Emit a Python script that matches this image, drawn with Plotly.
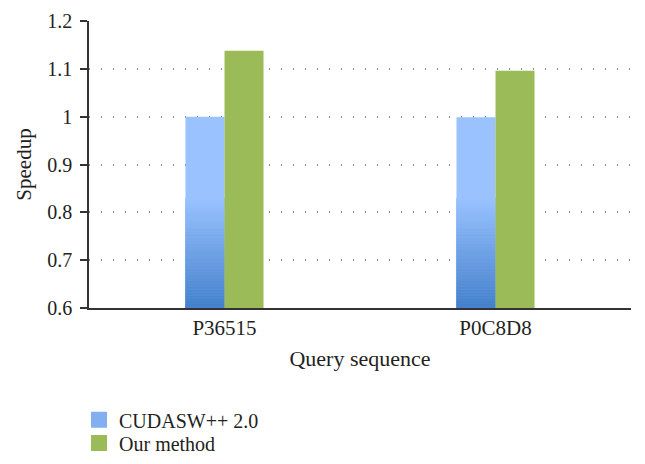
import plotly.graph_objects as go

categories = ["P36515", "P0C8D8"]
cudasw = [1.0, 0.999]
ours = [1.138, 1.096]
series_names = ["CUDASW++ 2.0", "Our method"]
y_ticks = [0.6, 0.7, 0.8, 0.9, 1.0, 1.1, 1.2]

FONT = "Liberation Serif"
TXT = "#231f20"
BLUE_LIGHT = (153, 194, 255)
BLUE_DARK = (70, 130, 205)
GREEN = "#9bbb59"

fig = go.Figure()

fig.add_trace(go.Bar(x=categories, y=cudasw, name=series_names[0], showlegend=False,
                     marker=dict(color="rgb(%d,%d,%d)" % BLUE_LIGHT, line_width=0),
                     offsetgroup="a"))

# gradient overlay on lower part of blue bars
ymin = y_ticks[0]
grad_top = 0.83
N = 36
step = (grad_top - ymin) / N
for i in range(N):
    t = i / (N - 1)
    c = tuple(int(BLUE_DARK[k] + (BLUE_LIGHT[k] - BLUE_DARK[k]) * t) for k in range(3))
    b = ymin + i * step
    fig.add_trace(go.Bar(x=categories, y=[min(step, max(v - b, 0)) for v in cudasw],
                         base=[b] * len(categories), showlegend=False, hoverinfo="skip",
                         marker=dict(color="rgb(%d,%d,%d)" % c,
                                     line=dict(width=0.6, color="rgb(%d,%d,%d)" % c)),
                         offsetgroup="a"))

fig.add_trace(go.Bar(x=categories, y=ours, name=series_names[1], showlegend=False,
                     marker=dict(color=GREEN, line_width=0), offsetgroup="b"))

# legend entries
fig.add_trace(go.Scatter(x=[None], y=[None], mode="markers", name=series_names[0],
                         marker=dict(symbol="square", size=16, color="rgb(130,175,240)"),
                         legend="legend"))
fig.add_trace(go.Scatter(x=[None], y=[None], mode="markers", name=series_names[1],
                         marker=dict(symbol="square", size=16, color=GREEN),
                         legend="legend2"))

leg_common = dict(orientation="h", xref="container", yref="container",
                  xanchor="left", yanchor="middle", x=0.1115,
                  font=dict(family=FONT, size=20, color=TXT),
                  bgcolor="rgba(0,0,0,0)", itemwidth=30)

fig.update_layout(
    width=637, height=456,
    margin=dict(l=81, r=14, t=13, b=156),
    paper_bgcolor="white", plot_bgcolor="white",
    barmode="group", bargap=0.712, bargroupgap=0,
    font=dict(family=FONT, size=20, color=TXT),
    showlegend=True,
    legend=dict(y=0.097, **leg_common),
    legend2=dict(y=0.046, **leg_common),
    xaxis=dict(
        automargin=False,
        showline=True, linecolor="#333333", linewidth=1.5,
        ticks="", showgrid=False, ticklabelstandoff=0,
        tickfont=dict(family=FONT, size=21, color=TXT),
        title=dict(text="Query sequence", font=dict(family=FONT, size=22, color=TXT), standoff=12),
    ),
    yaxis=dict(
        automargin=False,
        range=[y_ticks[0], y_ticks[-1]], tickvals=y_ticks,
        showline=True, linecolor="#333333", linewidth=1.5,
        ticks="outside", ticklen=7, tickwidth=1.5, tickcolor="#333333",
        showgrid=True, gridcolor="#8a8a8a", griddash="1px,11px", gridwidth=1.5,
        zeroline=False, ticklabelstandoff=4,
        tickfont=dict(family=FONT, size=20, color=TXT),
        title=dict(text="Speedup", font=dict(family=FONT, size=21, color=TXT), standoff=10),
    ),
)

fig.write_html("out.html")
